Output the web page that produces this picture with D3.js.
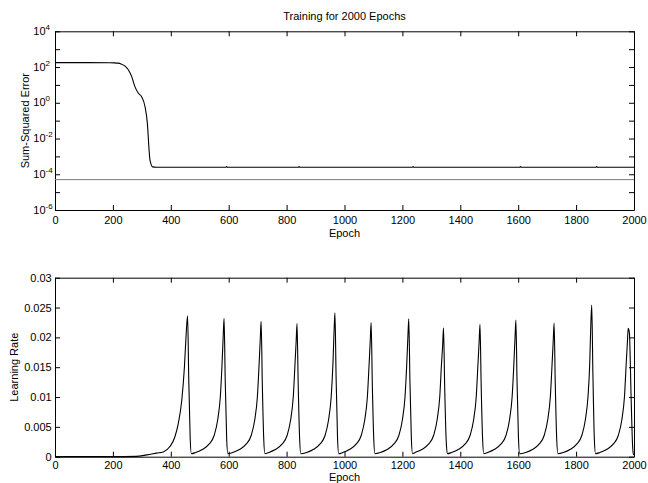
<!DOCTYPE html>
<html>
<head>
<meta charset="utf-8">
<script src="https://cdn.jsdelivr.net/npm/d3@7"></script>
<style>
  body { margin: 0; background: #fff; }
  svg { display: block; font-family: "Liberation Sans", Arial, sans-serif; }
  .axis text { font-size: 11px; fill: #000; font-family: "Liberation Sans", Arial, sans-serif; }
  .axis path, .axis line { stroke: #000; stroke-width: 1; }
  .label { font-size: 11px; fill: #000; }
</style>
</head>
<body>
<svg id="chart" width="648" height="483"></svg>
<script>
// x ticks shared by both panels
const epochTicks = [0, 200, 400, 600, 800, 1000, 1200, 1400, 1600, 1800, 2000];

// top panel: sum-squared error (log scale)
const sseDecades = [-6, -5, -4, -3, -2, -1, 0, 1, 2, 3, 4];
const sseEpoch = [0, 100, 190, 205, 217, 228, 240, 252, 265, 276, 288, 299, 311, 319, 325, 328, 337, 351,
  590, 593, 596, 840, 843, 846, 1234, 1237, 1240, 1605, 1608, 1611, 1868, 1871, 1874, 2000];
const sseValue = [176, 176, 175, 172, 165, 150, 120, 75, 29, 8, 3.4, 2.2, 0.6, 0.07, 0.0023, 0.00063, 0.00026, 0.000245,
  0.000245, 0.00027, 0.000245, 0.000245, 0.00027, 0.000245, 0.000245, 0.00027, 0.000245,
  0.000245, 0.00027, 0.000245, 0.000245, 0.00027, 0.000245, 0.000245];
const errorGoal = 5e-5;

// bottom panel: learning rate
const lrEpoch = [
  0, 200, 280, 317, 351, 374, 397, 414, 426, 438, 447, 453, 458, 462, 467, 471,
  486, 509, 532, 550, 562, 571, 577, 581, 584, 588, 593, 597,
  614, 637, 660, 678, 690, 699, 705, 709, 712, 716, 721, 725,
  738, 761, 784, 802, 814, 823, 829, 833, 836, 840, 845, 849,
  869, 892, 915, 933, 945, 954, 960, 964, 967, 971, 976, 980,
  994, 1017, 1040, 1058, 1070, 1079, 1085, 1089, 1092, 1096, 1101, 1105,
  1124, 1147, 1170, 1188, 1200, 1209, 1215, 1219, 1222, 1226, 1231, 1235,
  1244, 1267, 1290, 1308, 1320, 1329, 1335, 1339, 1342, 1346, 1351, 1355,
  1370, 1393, 1416, 1434, 1446, 1455, 1461, 1465, 1468, 1472, 1477, 1481,
  1494, 1517, 1540, 1558, 1570, 1579, 1585, 1589, 1592, 1596, 1601, 1605,
  1626, 1649, 1672, 1690, 1702, 1711, 1717, 1721, 1724, 1728, 1733, 1737,
  1756, 1779, 1802, 1820, 1832, 1841, 1847, 1851, 1854, 1858, 1863, 1867,
  1882, 1905, 1928, 1946, 1958, 1967, 1973, 1977, 1980, 1984, 1990, 1995, 1998, 2000
];
const lrValue = [
  0.00001, 0.00001, 0.00005, 0.0003, 0.0006, 0.0008, 0.0017, 0.0033, 0.0056, 0.0095, 0.015, 0.0205, 0.0236, 0.013, 0.003, 0.0005,
  0.0007, 0.0012, 0.0021, 0.0036, 0.0062, 0.0100, 0.0155, 0.0202, 0.0232, 0.0128, 0.003, 0.0005,
  0.0007, 0.0012, 0.0021, 0.0036, 0.0062, 0.0100, 0.0155, 0.0197, 0.0227, 0.0125, 0.003, 0.0005,
  0.0007, 0.0012, 0.0021, 0.0036, 0.0062, 0.0100, 0.0155, 0.0193, 0.0223, 0.0123, 0.003, 0.0005,
  0.0007, 0.0012, 0.0021, 0.0036, 0.0062, 0.0100, 0.0155, 0.0211, 0.0241, 0.0133, 0.003, 0.0005,
  0.0007, 0.0012, 0.0021, 0.0036, 0.0062, 0.0100, 0.0155, 0.0195, 0.0225, 0.0124, 0.003, 0.0005,
  0.0007, 0.0012, 0.0021, 0.0036, 0.0062, 0.0100, 0.0155, 0.0201, 0.0231, 0.0127, 0.003, 0.0005,
  0.0007, 0.0012, 0.0021, 0.0036, 0.0062, 0.0100, 0.0155, 0.0186, 0.0216, 0.0119, 0.003, 0.0005,
  0.0007, 0.0012, 0.0021, 0.0036, 0.0062, 0.0100, 0.0155, 0.0192, 0.0222, 0.0122, 0.003, 0.0005,
  0.0007, 0.0012, 0.0021, 0.0036, 0.0062, 0.0100, 0.0155, 0.0199, 0.0229, 0.0126, 0.003, 0.0005,
  0.0007, 0.0012, 0.0021, 0.0036, 0.0062, 0.0100, 0.0155, 0.0194, 0.0224, 0.0123, 0.003, 0.0005,
  0.0007, 0.0012, 0.0021, 0.0036, 0.0062, 0.0100, 0.0155, 0.0224, 0.0254, 0.0140, 0.003, 0.0005,
  0.0007, 0.0012, 0.0021, 0.0036, 0.0062, 0.0100, 0.0155, 0.0190, 0.0215, 0.0208, 0.010, 0.002, 0.0004, 0.0003
];
const lrTicks = [0, 0.005, 0.01, 0.015, 0.02, 0.025, 0.03];
const lrTickLabels = ['0', '0.005', '0.01', '0.015', '0.02', '0.025', '0.03'];

const svg = d3.select('#chart');
const left = 55, right = 634;
const top1 = 31.3, bottom1 = 210;
const top2 = 277.7, bottom2 = 456.7;
const tick = 5;

const x = d3.scaleLinear().domain([0, 2000]).range([left, right]);
const ySse = d3.scaleLog().domain([1e-6, 1e4]).range([bottom1, top1]);
const yLr = d3.scaleLinear().domain([0, 0.03]).range([bottom2, top2]);

// draws the four-sided MATLAB style box with inward ticks
const drawFrame = (y, yTop, yBottom, yValues, yFormat, yPad, xPad) => {
  svg.append('g').attr('class', 'axis')
    .attr('transform', `translate(0, ${yBottom})`)
    .call(d3.axisBottom(x).tickValues(epochTicks).tickSizeInner(-tick).tickSizeOuter(0)
      .tickPadding(xPad).tickFormat(d => String(d)));
  svg.append('g').attr('class', 'axis')
    .attr('transform', `translate(0, ${yTop})`)
    .call(d3.axisTop(x).tickValues(epochTicks).tickSizeInner(-tick).tickSizeOuter(0).tickFormat(''));
  svg.append('g').attr('class', 'axis')
    .attr('transform', `translate(${left}, 0)`)
    .call(d3.axisLeft(y).tickValues(yValues).tickSizeInner(-tick).tickSizeOuter(0).tickPadding(yPad).tickFormat(yFormat));
  svg.append('g').attr('class', 'axis')
    .attr('transform', `translate(${right}, 0)`)
    .call(d3.axisRight(y).tickValues(yValues).tickSizeInner(-tick).tickSizeOuter(0).tickFormat(''));
};

// top panel
const sseTickValues = sseDecades.map(p => Math.pow(10, p));
drawFrame(ySse, top1, bottom1, sseTickValues, () => '', 3, 6);

svg.append('g').selectAll('text')
  .data(sseDecades.filter(p => p % 2 === 0))
  .enter()
  .append('text')
  .attr('class', 'label')
  .attr('x', 33.3)
  .attr('y', p => ySse(Math.pow(10, p)))
  .attr('dy', '0.32em')
  .each(function(p) {
    const t = d3.select(this);
    t.append('tspan').text('10');
    t.append('tspan').attr('dy', -5).style('font-size', '8px').text(p);
  });

svg.append('path')
  .datum(epochTicks.filter((d, i) => i === 0 || i === epochTicks.length - 1))
  .attr('fill', 'none')
  .attr('stroke', '#7a7a7a')
  .attr('stroke-width', 1)
  .attr('d', d3.line().x(d => x(d)).y(() => ySse(errorGoal)));

svg.append('path')
  .datum(d3.zip(sseEpoch, sseValue))
  .attr('fill', 'none')
  .attr('stroke', '#000')
  .attr('stroke-width', 1.1)
  .attr('d', d3.line().x(d => x(d[0])).y(d => ySse(d[1])).curve(d3.curveMonotoneX));

svg.append('text').attr('class', 'label')
  .attr('x', (left + right) / 2).attr('y', 19.7)
  .attr('text-anchor', 'middle')
  .text('Training for 2000 Epochs');

svg.append('text').attr('class', 'label')
  .attr('x', (left + right) / 2).attr('y', 236.5)
  .attr('text-anchor', 'middle')
  .text('Epoch');

svg.append('text').attr('class', 'label')
  .attr('transform', `translate(28.5, ${(top1 + bottom1) / 2}) rotate(-90)`)
  .attr('text-anchor', 'middle')
  .text('Sum-Squared Error');

// bottom panel
drawFrame(yLr, top2, bottom2, lrTicks, (d, i) => lrTickLabels[i], 3.3, 4.3);

svg.append('path')
  .datum(d3.zip(lrEpoch, lrValue))
  .attr('fill', 'none')
  .attr('stroke', '#000')
  .attr('stroke-width', 1.1)
  .attr('d', d3.line().x(d => x(d[0])).y(d => yLr(d[1])).curve(d3.curveMonotoneX));

svg.append('text').attr('class', 'label')
  .attr('x', (left + right) / 2).attr('y', 481.2)
  .attr('text-anchor', 'middle')
  .text('Epoch');

svg.append('text').attr('class', 'label')
  .attr('transform', `translate(18, ${(top2 + bottom2) / 2}) rotate(-90)`)
  .attr('text-anchor', 'middle')
  .text('Learning Rate');
</script>
</body>
</html>
